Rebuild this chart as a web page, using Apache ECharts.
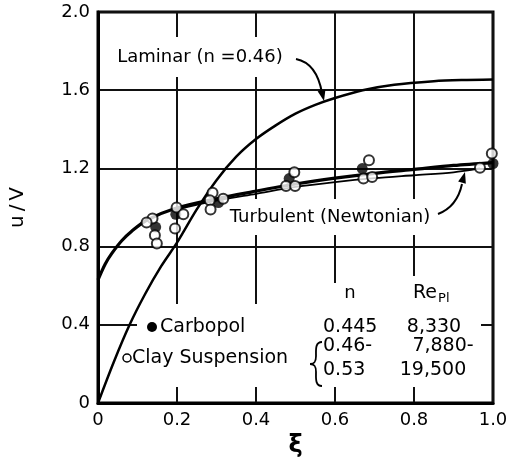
<!DOCTYPE html>
<html>
<head>
<meta charset="utf-8">
<script src="https://cdn.jsdelivr.net/npm/echarts@6.0.0/dist/echarts.min.js"></script>
<style>
  html, body { margin: 0; padding: 0; background: #fff; }
  #chart { width: 512px; height: 463px; }
</style>
</head>
<body>
<div id="chart"></div>
<script>
// Axis ticks and their labels
const xTicks = [0, 0.2, 0.4, 0.6, 0.8, 1.0];
const xTickLabels = ['0', '0.2', '0.4', '0.6', '0.8', '1.0'];
const yTicks = [0, 0.4, 0.8, 1.2, 1.6, 2.0];
const yTickLabels = ['0', '0.4', '0.8', '1.2', '1.6', '2.0'];

// Laminar power-law profile (n = 0.46)
const laminarXi = [0, 0.04, 0.08, 0.12, 0.16, 0.2, 0.25, 0.3, 0.35, 0.4, 0.45, 0.5, 0.55, 0.6, 0.67, 0.75, 0.85, 0.92, 1.0];
const laminarU  = [0, 0.21, 0.40, 0.56, 0.70, 0.82, 0.99, 1.14, 1.26, 1.35, 1.42, 1.48, 1.525, 1.56, 1.60, 1.628, 1.646, 1.652, 1.655];

// Turbulent profile through the data
const turbulentXi = [0, 0.018, 0.035, 0.06, 0.086, 0.123, 0.195, 0.3, 0.39, 0.5, 0.6, 0.7, 0.8, 0.9, 1.0];
const turbulentU  = [0.63, 0.71, 0.765, 0.83, 0.88, 0.935, 0.995, 1.045, 1.08, 1.12, 1.15, 1.175, 1.195, 1.215, 1.23];

// Turbulent (Newtonian) reference profile
const newtonianXi = [0.2, 0.3, 0.4, 0.5, 0.6, 0.7, 0.8, 0.9, 0.967];
const newtonianU  = [0.99, 1.035, 1.07, 1.105, 1.13, 1.15, 1.165, 1.18, 1.20];

// Measured points
const carbopolXi = [0.146, 0.197, 0.305, 0.484, 0.669, 1.0];
const carbopolU  = [0.90, 0.965, 1.025, 1.148, 1.199, 1.225];

const clayXi = [0.138, 0.123, 0.144, 0.149, 0.199, 0.216, 0.195, 0.29, 0.283, 0.317, 0.285, 0.497, 0.476, 0.499, 0.686, 0.672, 0.694, 0.997, 0.967];
const clayU  = [0.944, 0.923, 0.858, 0.816, 1.0, 0.965, 0.893, 1.075, 1.037, 1.045, 0.99, 1.18, 1.11, 1.11, 1.242, 1.148, 1.156, 1.276, 1.203];

// Table of fluid properties
const tableN  = ['0.445', '0.46-', '0.53'];
const tableRe = ['8,330', '7,880-', '19,500'];

const FONT = 'DejaVu Sans';
const zip = (a, b) => a.map((v, i) => [v, b[i]]);

function arrowHead(tip, from, len, half) {
  const dx = tip[0] - from[0], dy = tip[1] - from[1];
  const d = Math.hypot(dx, dy);
  const ux = dx / d, uy = dy / d;
  const bx = tip[0] - ux * len, by = tip[1] - uy * len;
  return [tip, [bx - uy * half, by + ux * half], [bx + uy * half, by - ux * half]];
}

function curve(x1, y1, cpx1, cpy1, cpx2, cpy2, x2, y2, width) {
  return {
    type: 'bezierCurve', z: 5, silent: true,
    shape: { x1, y1, cpx1, cpy1, cpx2, cpy2, x2, y2 },
    style: { stroke: '#000', lineWidth: width, fill: null }
  };
}

const chart = echarts.init(document.getElementById('chart'), null, { renderer: 'canvas' });

const textStyle = (extra) => Object.assign({ fill: '#000', fontFamily: FONT, fontSize: 18 }, extra);

const graphic = [
  // blank regions where the grid is interrupted
  { type: 'rect', z: 1, silent: true, shape: { x: 137, y: 304, width: 344, height: 83 }, style: { fill: '#fff' } },
  { type: 'rect', z: 1, silent: true, shape: { x: 320, y: 283, width: 80, height: 22 }, style: { fill: '#fff' } },
  { type: 'rect', z: 1, silent: true, shape: { x: 400, y: 276, width: 81, height: 29 }, style: { fill: '#fff' } },

  // curve annotations
  { type: 'text', z: 1, style: textStyle({ text: 'Laminar (n =0.46)', x: 200, y: 57, align: 'center', verticalAlign: 'middle', backgroundColor: '#fff', padding: [11, 3] }) },
  { type: 'text', z: 1, style: textStyle({ text: 'Turbulent (Newtonian)', x: 330, y: 217, align: 'center', verticalAlign: 'middle', backgroundColor: '#fff', padding: [9, 3] }) },
  curve(296, 59, 311, 62, 319, 76, 322, 93, 2),
  { type: 'polygon', z: 5, shape: { points: arrowHead([324, 101], [321, 88], 11, 4) }, style: { fill: '#000' } },
  curve(438, 214, 451, 209, 459, 198, 462, 184, 2),
  { type: 'polygon', z: 5, shape: { points: arrowHead([465, 172], [461, 186], 11, 4) }, style: { fill: '#000' } },

  // legend
  { type: 'circle', z: 5, shape: { cx: 152, cy: 327, r: 5 }, style: { fill: '#000' } },
  { type: 'text', z: 5, style: textStyle({ text: 'Carbopol', x: 160, y: 327, align: 'left', verticalAlign: 'middle', fontSize: 19 }) },
  { type: 'circle', z: 5, shape: { cx: 127, cy: 358, r: 4 }, style: { fill: '#fff', stroke: '#000', lineWidth: 1.5 } },
  { type: 'text', z: 5, style: textStyle({ text: 'Clay Suspension', x: 132, y: 358, align: 'left', verticalAlign: 'middle', fontSize: 19 }) },

  // table headers
  { type: 'text', z: 5, style: textStyle({ text: 'n', x: 350, y: 293, align: 'center', verticalAlign: 'middle' }) },
  { type: 'text', z: 5, style: {
      text: '{r|Re}{s|Pl}', x: 413, y: 293, align: 'left', verticalAlign: 'middle',
      rich: {
        r: { fontFamily: FONT, fontSize: 19, fill: '#000' },
        s: { fontFamily: FONT, fontSize: 13, fill: '#000', padding: [12, 0, 0, 1] }
      }
  } },
  // brace grouping the clay suspension rows
  curve(322, 342, 315, 342, 316, 350, 316, 356, 1.8),
  curve(316, 356, 316, 361, 315, 364, 310, 364, 1.8),
  curve(310, 364, 315, 364, 316, 367, 316, 372, 1.8),
  curve(316, 372, 316, 378, 315, 386, 322, 386, 1.8)
];

const rowY = [327, 346, 370];
const reCenter = [434, 443, 433];
tableN.forEach((t, i) => {
  graphic.push({ type: 'text', z: 5, style: textStyle({ text: t, x: 323, y: rowY[i], align: 'left', verticalAlign: 'middle', fontSize: 19 }) });
});
tableRe.forEach((t, i) => {
  graphic.push({ type: 'text', z: 5, style: textStyle({ text: t, x: reCenter[i], y: rowY[i], align: 'center', verticalAlign: 'middle', fontSize: 19 }) });
});

const tickLabel = (ticks, labels) => (v) => {
  const i = ticks.findIndex(t => Math.abs(t - v) < 1e-6);
  return i >= 0 ? labels[i] : '';
};

const option = {
  animation: false,
  backgroundColor: '#fff',
  grid: { left: 96, right: 19, top: 12, bottom: 60, show: true, borderColor: '#000', borderWidth: 3, backgroundColor: 'transparent' },
  xAxis: {
    type: 'value', min: 0, max: 1, interval: 0.2,
    name: 'ξ', nameLocation: 'middle', nameGap: 30,
    nameTextStyle: { color: '#000', fontFamily: FONT, fontSize: 24, fontWeight: 'bold' },
    axisLine: { show: true, lineStyle: { color: '#000', width: 3 } },
    axisTick: { show: false },
    axisLabel: { color: '#000', fontFamily: FONT, fontSize: 18, margin: 8, formatter: tickLabel(xTicks, xTickLabels) },
    splitLine: { show: true, lineStyle: { color: '#111', width: 2 } }
  },
  yAxis: {
    type: 'value', min: 0, max: 2, interval: 0.4,
    name: 'u\u2009/\u2009V', nameLocation: 'middle', nameGap: 70, nameRotate: 90,
    nameTextStyle: { color: '#000', fontFamily: FONT, fontSize: 20 },
    axisLine: { show: true, lineStyle: { color: '#000', width: 3 } },
    axisTick: { show: false },
    axisLabel: { color: '#000', fontFamily: FONT, fontSize: 18, margin: 8, formatter: tickLabel(yTicks, yTickLabels) },
    splitLine: { show: true, lineStyle: { color: '#111', width: 2 } }
  },
  series: [
    { name: 'Laminar', type: 'line', data: zip(laminarXi, laminarU), showSymbol: false, smooth: 0.3, lineStyle: { color: '#000', width: 2.5 }, z: 2, silent: true },
    { name: 'Turbulent', type: 'line', data: zip(turbulentXi, turbulentU), showSymbol: false, smooth: 0.3, lineStyle: { color: '#000', width: 3.2 }, z: 2, silent: true },
    { name: 'Turbulent (Newtonian)', type: 'line', data: zip(newtonianXi, newtonianU), showSymbol: false, smooth: 0.3, lineStyle: { color: '#000', width: 1.8 }, z: 2, silent: true },
    { name: 'Carbopol', type: 'scatter', data: zip(carbopolXi, carbopolU), symbol: 'circle', symbolSize: 11, itemStyle: { color: '#000' }, z: 3, clip: false, silent: true },
    { name: 'Clay Suspension', type: 'scatter', data: zip(clayXi, clayU), symbol: 'circle', symbolSize: 10, itemStyle: { color: '#fff', borderColor: '#000', borderWidth: 2 }, z: 4, clip: false, silent: true }
  ],
  graphic: graphic
};

chart.setOption(option);
</script>
</body>
</html>
